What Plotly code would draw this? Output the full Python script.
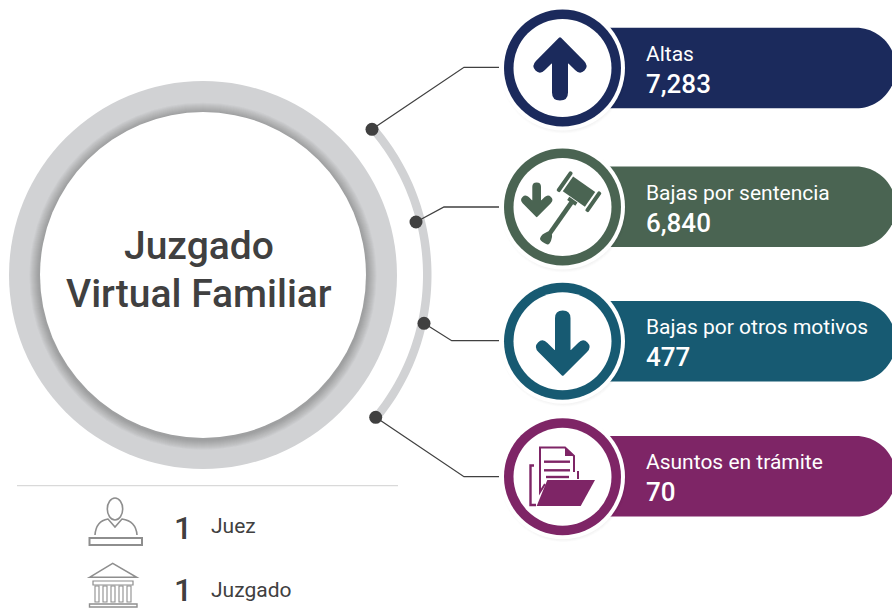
import math
import plotly.graph_objects as go

categories = ["Altas", "Bajas por sentencia", "Bajas por otros motivos", "Asuntos en trámite"]
values = [7283, 6840, 477, 70]
colors = ["#1B2A5C", "#4A6452", "#175A72", "#7E2566"]
center_title = ["Juzgado", "Virtual Familiar"]
staff_counts = [1, 1]
staff_labels = ["Juez", "Juzgado"]
TEXT = "#404040"
RING = "#D1D2D4"
ICON = "#8E8E8E"

W, H = 892, 608
shapes = []
ann = []


def circle(cx, cy, r, fill, line=None, lw=0):
    shapes.append(dict(type="circle", x0=cx - r, x1=cx + r, y0=cy - r, y1=cy + r,
                       fillcolor=fill, line=dict(color=line or fill, width=lw), layer="below"))


def path(d, fill=None, line=None, lw=0):
    s = dict(type="path", path=d, layer="below", line=dict(color=line or "rgba(0,0,0,0)", width=lw))
    if fill:
        s["fillcolor"] = fill
    shapes.append(s)


def poly(pts, closed=True):
    return "M " + " L ".join(f"{x:.2f} {y:.2f}" for x, y in pts) + (" Z" if closed else "")


def rounded(pts, radii):
    n = len(pts)
    out = []
    for i in range(n):
        px, py = pts[i]
        ax, ay = pts[i - 1]
        bx, by = pts[(i + 1) % n]
        r = radii[i]
        la = math.hypot(ax - px, ay - py)
        lb = math.hypot(bx - px, by - py)
        ra = min(r, la / 2) / la
        rb = min(r, lb / 2) / lb
        s = (px + (ax - px) * ra, py + (ay - py) * ra)
        e = (px + (bx - px) * rb, py + (by - py) * rb)
        out.append(("M" if i == 0 else "L") + f" {s[0]:.2f} {s[1]:.2f} Q {px:.2f} {py:.2f} {e[0]:.2f} {e[1]:.2f}")
    return " ".join(out) + " Z"


# Main ring
cx0, cy0 = 203, 275
circle(cx0, cy0, 194, RING)
for i in range(10):
    circle(cx0, cy0 + 1.2, 173.5 - i, "rgba(70,70,70,0.036)")
circle(cx0, cy0, 163, "#FFFFFF")

# Outer thin arc
a0 = math.atan2(129.3 - cy0, 372 - cx0)
a1 = math.atan2(417.3 - cy0, 375.7 - cx0)
R0, R1 = 220, 228.5
steps = 80
outer = [(cx0 + R1 * math.cos(a0 + (a1 - a0) * i / steps), cy0 + R1 * math.sin(a0 + (a1 - a0) * i / steps)) for i in range(steps + 1)]
inner = [(cx0 + R0 * math.cos(a1 + (a0 - a1) * i / steps), cy0 + R0 * math.sin(a1 + (a0 - a1) * i / steps)) for i in range(steps + 1)]
path(poly(outer + inner), fill=RING)

# Connectors
dots = [(372, 129.3), (416, 222), (424, 323.3), (375.7, 417.3)]
elbows = [(464, 67.3), (444, 207), (451.7, 340.7), (464, 476.7)]
for d, e in zip(dots, elbows):
    path(poly([d, e, (499, e[1])], closed=False), line="#404040", lw=1.3)

# Pills and badges
pill_cy = [68, 206.7, 341.3, 476.3]
badge_cy = [68, 207, 341.3, 476.7]
bx = 562.5
for cy, pcy, col in zip(badge_cy, pill_cy, colors):
    top, bot = pcy - 40.3, pcy + 40.3
    path(f"M 585 {top} L 856 {top} C 878 {top} 896 {pcy-22} 896 {pcy} C 896 {pcy+22} 878 {bot} 856 {bot} L 585 {bot} Z", fill=col)
    for i in range(5):
        circle(bx + 1, cy + 2, 63.5 - i * 0.8, "rgba(0,0,0,0.012)")
    circle(bx, cy, 62.5, "#FFFFFF")
    circle(bx, cy, 58.5, col)
    circle(bx, cy, 49, "#FFFFFF")

# Up arrow
pts = [(560, 36.7), (589, 66), (580, 75), (568, 63), (568, 100.5), (552, 100.5), (552, 63), (540, 75), (531, 66)]
path(rounded(pts, [1.5, 7, 7, 1, 8, 8, 1, 7, 7]), fill=colors[0])
# Down arrow
pts = [(562.7, 376.3), (592, 347), (583, 338), (570.5, 350.5), (570.5, 310.5), (555, 310.5), (555, 350.5), (542.5, 338), (533.5, 347)]
path(rounded(pts, [1.5, 7, 7, 1, 7.7, 7.7, 1, 7, 7]), fill=colors[2])
# Small arrow (gavel badge)
pts = [(536.7, 217.5), (554, 200), (548, 194), (541, 200.5), (541, 182.5), (532.3, 182.5), (532.3, 200.5), (525.5, 194), (519.5, 200)]
path(rounded(pts, [1, 4.5, 4.5, 0.5, 4.3, 4.3, 0.5, 4.5, 4.5]), fill=colors[1])

# Gavel
gx, gy, ang = 579, 191.7, math.radians(35)


def g(u, v):
    return (gx + u * math.cos(ang) - v * math.sin(ang), gy + u * math.sin(ang) + v * math.cos(ang))


def grect(u0, u1, v0, v1, r=0):
    p = [g(u0, v0), g(u1, v0), g(u1, v1), g(u0, v1)]
    path(rounded(p, [r] * 4), fill=colors[1])


grect(-13.5, 13.5, -9, 9)
grect(-19.5, -15.5, -12, 12, 1.5)
grect(15.5, 19.5, -12, 12, 1.5)
grect(-5, 5, 9.8, 13.5)
grect(-2.3, 2.3, 13, 52)
path(rounded([g(-2.5, 50), g(2.5, 50), g(5.5, 56), g(5.5, 62), g(-5.5, 62), g(-5.5, 56)], [1, 2, 4, 4, 4, 2]), fill=colors[1])

# Folder
c = colors[3]
path(poly([(536.7, 506), (580.7, 506), (595, 480), (547.3, 480)]), fill=c)
path(poly([(534, 465.5), (530.5, 465.5), (530.5, 505), (536, 505)], closed=False), line=c, lw=2.4)
path(poly([(545, 484), (540, 492), (540, 447.5), (565, 447.5), (574, 456), (574, 472)], closed=False), line=c, lw=2)
path(poly([(565, 448), (565, 456), (574, 456)]), fill=c)
path(poly([(578, 471), (578, 479)], closed=False), line=c, lw=2)
for yy, xa, xb in [(461.7, 544, 570), (470.3, 544, 570), (477, 546, 569)]:
    path(poly([(xa, yy), (xb, yy)], closed=False), line=c, lw=2.4)

# Separator
path(poly([(17, 485.7), (398, 485.7)], closed=False), line="#D9D9D9", lw=1.2)

# Judge icon
shapes.append(dict(type="circle", x0=107.3, x1=122.7, y0=498, y1=520, line=dict(color=ICON, width=1.6),
                   fillcolor="rgba(0,0,0,0)", layer="below"))
path("M 95 535 Q 96 521 108 519 L 115 527 L 122 519 Q 136 521 137 535", line=ICON, lw=1.6)
path(poly([(89.5, 538), (142, 538), (142, 545), (89.5, 545)]), line=ICON, lw=2)

# Building icon
path(poly([(89.5, 577.3), (112.7, 563.3), (136.7, 577.3)]), line=ICON, lw=1.5)
path(poly([(93, 581), (133, 581), (133, 585), (93, 585)]), line=ICON, lw=1.2)
for x in (95, 103, 111, 119, 127):
    path(poly([(x, 586), (x + 4, 586), (x + 4, 602), (x, 602)]), line=ICON, lw=1.1)
path(poly([(89.5, 604), (137, 604), (137, 607), (89.5, 607)]), line=ICON, lw=1.4)


def text(x, y, s, size, color=TEXT, weight=400, anchor="left"):
    ann.append(dict(x=x, y=y, text=s, showarrow=False, xanchor=anchor, yanchor="middle", xref="x", yref="y",
                    font=dict(family="Roboto", size=size, color=color, weight=weight)))


text(199, 246, center_title[0], 39, weight=500, anchor="center")
text(199, 293.5, center_title[1], 39, weight=500, anchor="center")
for cat, val, cy in zip(categories, values, pill_cy):
    text(644, cy - 14, cat, 21, "#FFFFFF")
    text(644, cy + 16, f"{val:,}", 26, "#FFFFFF", 500)
for cnt, lab, y, yl in zip(staff_counts, staff_labels, [528, 589.5], [526, 590]):
    text(183, y, str(cnt), 32, weight=500, anchor="center")
    text(209, yl, lab, 21)

fig = go.Figure(go.Scatter(x=[d[0] for d in dots], y=[d[1] for d in dots], mode="markers",
                           marker=dict(size=13, color="#404040"), hoverinfo="skip", showlegend=False))
fig.update_layout(width=W, height=H, margin=dict(l=0, r=0, t=0, b=0), paper_bgcolor="#FFFFFF", plot_bgcolor="#FFFFFF",
                  xaxis=dict(range=[0, W], visible=False, fixedrange=True),
                  yaxis=dict(range=[H, 0], visible=False, fixedrange=True),
                  shapes=shapes, annotations=ann, showlegend=False)
fig.write_html("out.html", config=dict(displayModeBar=False),
               post_script="document.body.style.margin='0';")
